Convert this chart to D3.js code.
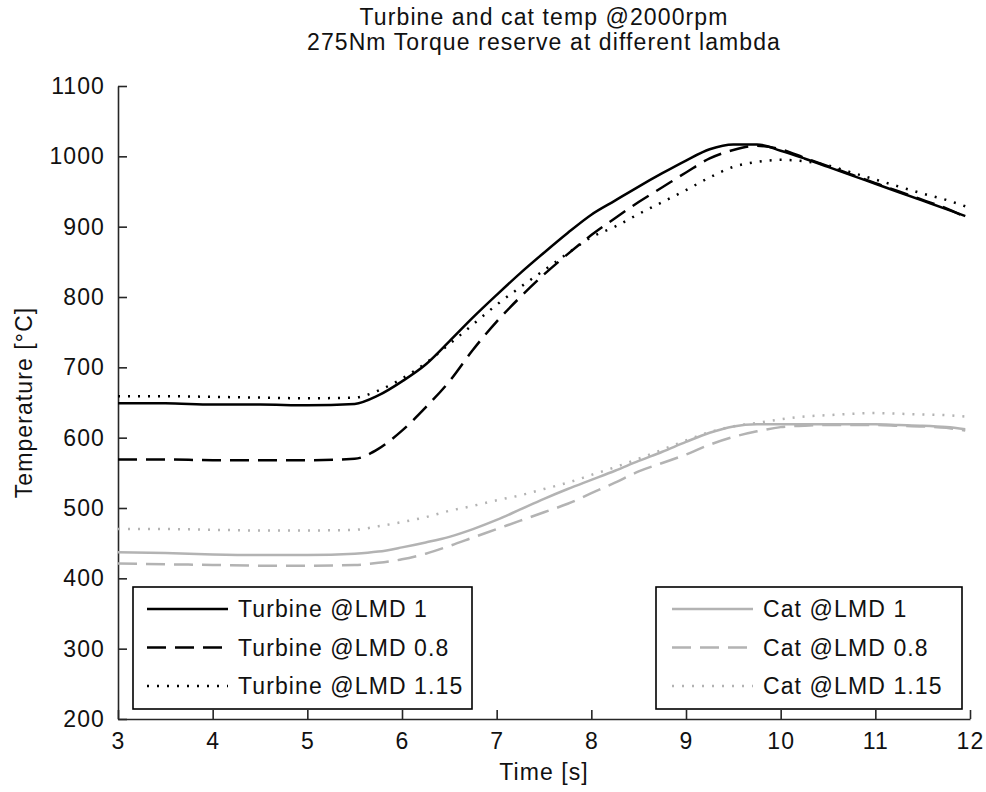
<!DOCTYPE html>
<html>
<head>
<meta charset="utf-8">
<script src="https://cdn.jsdelivr.net/npm/d3@7"></script>
<style>
  html, body { margin: 0; padding: 0; background: #ffffff; }
  svg text { font-family: "Liberation Sans", Arial, sans-serif; fill: #111; }
</style>
</head>
<body>
<svg id="chart" width="986" height="792"></svg>
<script>
// ---- data ----
const time = [3, 3.5, 4, 4.5, 5, 5.5, 5.75, 6, 6.25, 6.5, 6.75, 7, 7.25, 7.5, 7.75, 8, 8.25, 8.5, 8.75, 9, 9.25, 9.5, 9.75, 10, 10.25, 10.5, 10.75, 11, 11.25, 11.5, 11.75, 11.95];
const turbine1   = [649, 649, 647, 647, 646, 648, 660, 680, 704, 737, 771, 803, 834, 863, 891, 917, 937, 957, 976, 994, 1010, 1017, 1017, 1008, 997, 985, 973, 961, 949, 937, 925, 915];
const turbine08  = [569, 569, 568, 568, 568, 570, 584, 610, 643, 680, 725, 765, 800, 832, 861, 888, 912, 935, 956, 977, 997, 1009, 1015, 1010, 998, 986, 974, 962, 950, 938, 926, 914];
const turbine115 = [659, 659, 658, 657, 656, 657, 667, 684, 706, 733, 761, 789, 814, 838, 862, 885, 900, 918, 935, 952, 970, 985, 992, 995, 993, 987, 977, 967, 957, 947, 938, 929];
const cat1   = [437, 436, 434, 433, 433, 435, 438, 444, 451, 459, 470, 483, 498, 513, 527, 540, 553, 567, 580, 594, 607, 616, 619, 619, 619, 619, 619, 619, 618, 617, 615, 612];
const cat08  = [421, 420, 419, 418, 418, 419, 422, 427, 435, 446, 458, 470, 482, 494, 506, 521, 536, 552, 564, 576, 590, 601, 609, 615, 617, 618, 618, 618, 617, 616, 614, 610];
const cat115 = [470, 470, 469, 468, 468, 469, 474, 480, 487, 496, 503, 511, 518, 527, 536, 547, 558, 570, 583, 596, 608, 616, 621, 626, 630, 632, 634, 635, 634, 633, 632, 630];

const xTicks = [3, 4, 5, 6, 7, 8, 9, 10, 11, 12];
const yTicks = [200, 300, 400, 500, 600, 700, 800, 900, 1000, 1100];
const titleLines = ["Turbine and cat temp @2000rpm", "275Nm Torque reserve at different lambda"];
const xLabel = "Time [s]";
const yLabel = "Temperature [°C]";

const seriesNames = ["Turbine @LMD 1", "Turbine @LMD 0.8", "Turbine @LMD 1.15", "Cat @LMD 1", "Cat @LMD 0.8", "Cat @LMD 1.15"];
const seriesValues = [turbine1, turbine08, turbine115, cat1, cat08, cat115];

// ---- styles ----
const black = "#000000", gray = "#b3b3b3";
const styles = [
  {color: black, dash: null},
  {color: black, dash: "19,9"},
  {color: black, dash: "2,8"},
  {color: gray, dash: null},
  {color: gray, dash: "19,9"},
  {color: gray, dash: "2,8"}
];

const svg = d3.select("#chart");
const mLeft = 118, mRight = 970, mTop = 86, mBottom = 719;
const x = d3.scaleLinear().domain([3, 12]).range([mLeft, mRight]);
const y = d3.scaleLinear().domain([200, 1100]).range([mBottom, mTop]);

const fontSize = 23, ls = "1.1px";

// axes
const axisColor = "#262626";
const xAxis = d3.axisBottom(x).tickValues(xTicks).tickSizeInner(-9).tickSizeOuter(0).tickPadding(14).tickFormat(d3.format("d"));
const yAxis = d3.axisLeft(y).tickValues(yTicks).tickSizeInner(-9).tickSizeOuter(0).tickPadding(13).tickFormat(d3.format("d"));

const gx = svg.append("g").attr("transform", `translate(0,${mBottom})`).call(xAxis);
const gy = svg.append("g").attr("transform", `translate(${mLeft},0)`).call(yAxis);
[gx, gy].forEach(g => {
  g.select(".domain").attr("stroke", axisColor).attr("stroke-width", 1.6);
  g.selectAll(".tick line").attr("stroke", axisColor).attr("stroke-width", 1.6);
  g.selectAll(".tick text").attr("font-size", fontSize).attr("font-family", "'Liberation Sans', Arial, sans-serif")
    .attr("fill", "#111").style("letter-spacing", ls);
});
gx.selectAll(".tick text").attr("dy", "0.71em");

// lines
const line = d3.line().x((d, i) => x(time[i])).y(d => y(d)).curve(d3.curveMonotoneX);
const order = [3, 4, 5, 0, 1, 2];
order.forEach(k => {
  svg.append("path")
    .datum(seriesValues[k])
    .attr("d", line)
    .attr("fill", "none")
    .attr("stroke", styles[k].color)
    .attr("stroke-width", 2.5)
    .attr("stroke-dasharray", styles[k].dash);
});

// title
titleLines.forEach((t, i) => {
  svg.append("text").attr("x", (mLeft + mRight) / 2).attr("y", 25 + i * 25)
    .attr("text-anchor", "middle").attr("font-size", fontSize).style("letter-spacing", ls).text(t);
});

// axis labels
svg.append("text").attr("x", (mLeft + mRight) / 2).attr("y", 780)
  .attr("text-anchor", "middle").attr("font-size", fontSize).style("letter-spacing", ls).text(xLabel);
svg.append("text").attr("transform", `translate(32,${(mTop + mBottom) / 2}) rotate(-90)`)
  .attr("text-anchor", "middle").attr("font-size", fontSize).style("letter-spacing", ls).text(yLabel);

// legends
function legend(x0, x1, idx, lineX0, lineX1, textX) {
  svg.append("rect").attr("x", x0).attr("y", 587).attr("width", x1 - x0).attr("height", 122)
    .attr("fill", "#fff").attr("stroke", "#000").attr("stroke-width", 1.6);
  idx.forEach((k, j) => {
    const yy = 609 + j * 38.5;
    svg.append("line").attr("x1", lineX0).attr("x2", lineX1).attr("y1", yy).attr("y2", yy)
      .attr("stroke", styles[k].color).attr("stroke-width", 2.5).attr("stroke-dasharray", styles[k].dash);
    svg.append("text").attr("x", textX).attr("y", yy + 8).attr("font-size", fontSize)
      .style("letter-spacing", ls).text(seriesNames[k]);
  });
}
legend(133, 472, [0, 1, 2], 147, 228, 238);
legend(656, 962, [3, 4, 5], 672, 753, 763);
</script>
</body>
</html>
